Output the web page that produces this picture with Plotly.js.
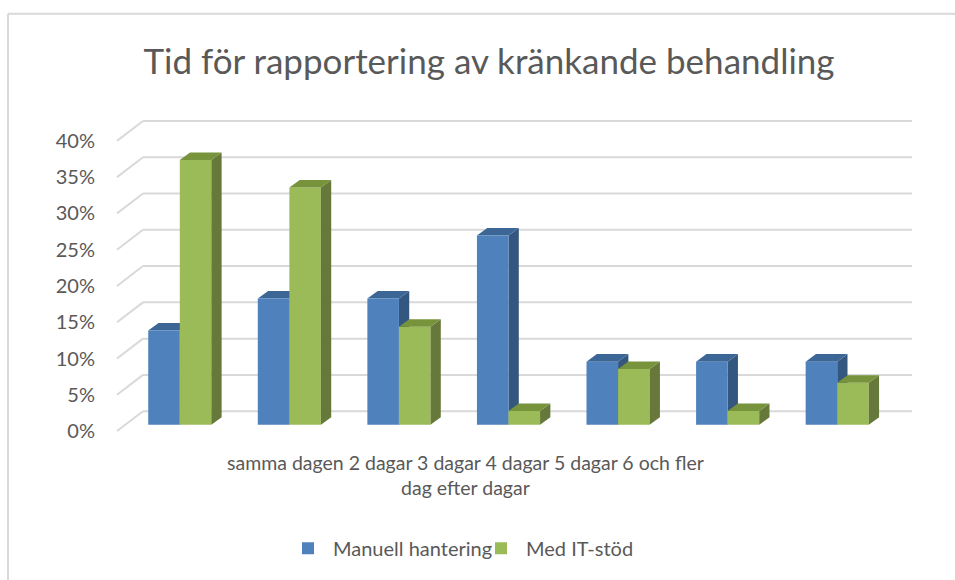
<!DOCTYPE html>
<html><head><meta charset="utf-8">
<script src="https://cdn.plot.ly/plotly-3.0.1.min.js"></script>
<style>body{margin:0;background:#fff}#c{width:955px;height:580px}</style>
</head><body><div id="c"></div>
<script>
// ---- data ----
const categories = ["samma<br>dag", "dagen<br>efter", "2 dagar", "3 dagar", "4 dagar", "5 dagar", "6 och fler<br>dagar"];
const manuell = [13.0, 17.4, 17.4, 26.1, 8.7, 8.7, 8.7];
const itStod = [36.5, 32.7, 13.5, 1.9, 7.7, 1.9, 5.8];
const seriesNames = ["Manuell hantering", "Med IT-stöd"];
const yTicks = [0, 5, 10, 15, 20, 25, 30, 35, 40];
const titleText = "Tid för rapportering av kränkande behandling";

// ---- styling / geometry ----
const W = 955, H = 580, ML = 125, MR = 63, MT = 115, MB = 140;
const PW = W - ML - MR, PH = H - MT - MB;
const xRange = [-0.5, categories.length - 0.5];
const yRange = [-1.82, 42.70];
const pxX = PW / (xRange[1] - xRange[0]);
const pxY = PH / (yRange[1] - yRange[0]);
const bargap = 0.424;
const barW = (1 - bargap) / 2;
const TXT = '#595959', GRID = '#D9D9D9';
const FONT = 'Lato, "Open Sans", sans-serif';
const frontCols = ['#4F81BD', '#9BBB59'];
const topCols = ['#3C6696', '#77933C'];
const sideCols = ['#34577F', '#66793A'];
// depth offsets (pixels) relative to bar front plane
const backDX = 18, backDY = 13.7;     // back wall
const frontDX = -8, frontDY = -6.3;   // label plane
const barDX = 10.3, barDY = 7.6;      // bar depth

const shapes = [];
const px2paperX = p => (p - ML) / PW;
const py2paperY = p => (MT + PH - p) / PH;
// chart frame (top & left visible)
shapes.push({type:'line', xref:'paper', yref:'paper', x0:px2paperX(8), x1:px2paperX(W+5), y0:py2paperY(13), y1:py2paperY(13), line:{color:GRID, width:2}, layer:'below'});
shapes.push({type:'line', xref:'paper', yref:'paper', x0:px2paperX(8), x1:px2paperX(8), y0:py2paperY(13), y1:py2paperY(H+5), line:{color:GRID, width:2}, layer:'below'});

// back-wall gridlines and side-wall diagonals
yTicks.forEach(t => {
  const yb = t + backDY / pxY, yf = t + frontDY / pxY;
  shapes.push({type:'line', xref:'paper', yref:'y', x0:backDX / PW, x1:(912 - ML) / PW, y0:yb, y1:yb, line:{color:GRID, width:2}, layer:'below'});
  shapes.push({type:'line', xref:'paper', yref:'y', x0:frontDX / PW, x1:backDX / PW, y0:yf, y1:yb, line:{color:GRID, width:2}, layer:'below'});
});

// 3D faces of bars
const dx = barDX / pxX, dy = barDY / pxY;
[manuell, itStod].forEach((vals, s) => {
  vals.forEach((v, i) => {
    const xl = i + (s === 0 ? -barW : 0);
    const xr = xl + barW;
    const layer = s === 0 ? 'below' : 'above';
    shapes.push({type:'path', xref:'x', yref:'y', layer,
      path:`M${xr},0 L${xr},${v} L${xr+dx},${v+dy} L${xr+dx},${dy} Z`,
      fillcolor:sideCols[s], line:{width:0}});
    shapes.push({type:'path', xref:'x', yref:'y', layer,
      path:`M${xl},${v} L${xr},${v} L${xr+dx},${v+dy} L${xl+dx},${v+dy} Z`,
      fillcolor:topCols[s], line:{width:0}});
  });
});

const traces = [manuell, itStod].map((vals, s) => ({
  type:'bar', name:seriesNames[s], x:categories, y:vals,
  marker:{color:frontCols[s], line:{width:0}},
  hovertemplate:'%{x}: %{y}%<extra>' + seriesNames[s] + '</extra>'
}));

const line1 = categories.map(c => c.split('<br>')[0]).join(' ');
const line2 = categories.filter(c => c.includes('<br>')).map(c => c.split('<br>')[1]).join(' ');

const layout = {
  width:W, height:H,
  margin:{l:ML, r:MR, t:MT, b:MB},
  paper_bgcolor:'#fff', plot_bgcolor:'rgba(0,0,0,0)',
  font:{family:FONT, color:TXT, size:19},
  title:{text:titleText, font:{family:FONT, size:35, color:TXT}, xref:'container', x:489/W, xanchor:'center', yref:'container', y:1 - 62/H, yanchor:'middle'},
  barmode:'group', bargap:bargap, bargroupgap:0,
  showlegend:true,
  legend:{orientation:'h', x:px2paperX(283), xanchor:'left', y:py2paperY(551), yanchor:'middle', font:{size:20, color:TXT, family:FONT}, itemwidth:40, entrywidth:138, entrywidthmode:'pixels', traceorder:'normal'},
  xaxis:{type:'category', range:xRange, showticklabels:false, showgrid:false, zeroline:false, showline:false, ticks:'', fixedrange:true},
  yaxis:{range:yRange, showgrid:false, zeroline:false, showline:false, showticklabels:false, ticks:'', fixedrange:true},
  yaxis2:{overlaying:'y', side:'left', range:[yRange[0] - frontDY / pxY, yRange[1] - frontDY / pxY], tickvals:yTicks, ticktext:yTicks.map(t => t + '%'), showgrid:false, zeroline:false, showline:false, ticks:'', ticklabelstandoff:29, tickfont:{size:20, color:TXT, family:FONT}, fixedrange:true},
  shapes:shapes,
  annotations:[{xref:'paper', yref:'paper', x:px2paperX(465), y:py2paperY(451), xanchor:'center', yanchor:'top', align:'center', showarrow:false, text:line1 + '<br>' + line2, font:{size:19.5, color:TXT, family:FONT}}]
};
// invisible trace that activates the tick-label axis
traces.push({type:'scatter', x:[categories[0]], y:[0], yaxis:'y2', mode:'none', showlegend:false, hoverinfo:'skip'});

Plotly.newPlot('c', traces, layout, {displayModeBar:false, staticPlot:true});
</script></body></html>
